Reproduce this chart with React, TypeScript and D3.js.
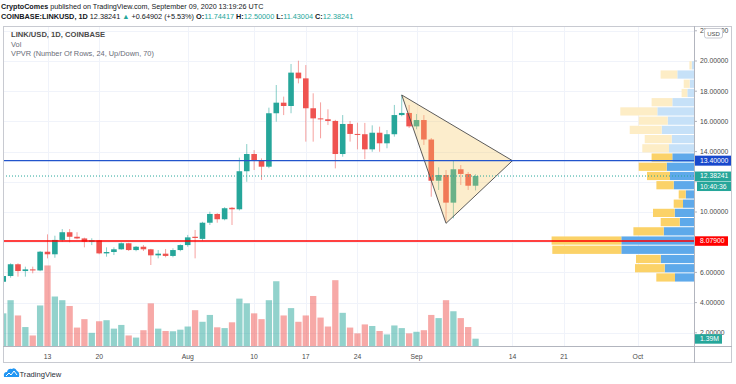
import React from "react";
import * as d3 from "d3";

// daily candles, Jul 7 .. Sep 9 2020 (LINK/USD, Coinbase)
const START = "2020-07-07";
const OPEN = [
  5.38, 5.76, 6.54, 6.09, 6.2, 6.13, 7.37, 7.2, 8.15, 8.66, 8.36, 8.25, 8.03, 8.12, 7.26, 7.35, 7.53, 7.93, 7.48, 7.7,
  7.53, 7.13, 7.24, 7.09, 7.48, 7.81, 8.36, 8.22, 9.29, 9.87, 9.52, 10.28, 10.18, 12.7, 13.84, 13.44, 13.0, 16.54, 17.24, 17.02,
  19.23, 18.85, 16.87, 16.2, 16.14, 16.03, 13.84, 15.83, 15.17, 15.15, 14.15, 15.25, 14.55, 15.15, 16.42, 16.56, 15.67, 16.09, 14.8, 12.07,
  12.45, 10.62, 12.83, 12.52, 11.74,
];
const HIGH = [
  5.85, 6.6, 6.6, 6.38, 6.38, 7.42, 8.52, 8.43, 8.87, 8.87, 8.66, 8.3, 8.26, 8.15, 7.66, 7.66, 7.98, 7.96, 7.75, 7.81,
  7.56, 7.48, 7.55, 7.6, 7.85, 8.48, 8.81, 9.35, 10.02, 9.92, 10.32, 10.33, 13.6, 14.5, 14.1, 13.55, 16.91, 18.41, 17.64, 19.8,
  20.02, 19.73, 17.86, 17.26, 16.8, 16.1, 16.42, 16.03, 15.91, 15.9, 15.74, 15.65, 15.43, 17.09, 17.75, 17.09, 16.49, 16.42, 14.9, 12.96,
  12.78, 13.4, 13.11, 12.65, 12.5,
];
const LOW = [
  5.36, 5.65, 5.72, 5.72, 5.94, 6.08, 6.93, 6.97, 8.03, 7.99, 8.2, 7.66, 7.81, 7.2, 7.04, 7.15, 7.5, 7.42, 7.4, 7.42,
  6.49, 6.93, 7.0, 7.0, 7.4, 7.7, 6.93, 8.1, 9.14, 9.29, 9.45, 9.14, 10.1, 12.0, 12.78, 12.12, 12.9, 15.98, 16.42, 16.54,
  18.52, 14.66, 14.66, 14.88, 15.76, 12.89, 13.66, 14.66, 14.15, 13.5, 13.99, 13.99, 14.22, 14.99, 16.34, 15.56, 15.48, 14.44, 11.01, 11.46,
  9.36, 9.58, 11.79, 11.46, 11.43,
];
const CLOSE = [
  5.76, 6.54, 6.09, 6.2, 6.13, 7.37, 7.2, 8.15, 8.66, 8.36, 8.25, 8.03, 8.12, 7.26, 7.35, 7.53, 7.93, 7.48, 7.7, 7.53,
  7.13, 7.24, 7.09, 7.48, 7.81, 8.32, 8.28, 9.29, 9.87, 9.52, 10.25, 10.18, 12.7, 13.84, 13.44, 13.0, 16.54, 17.24, 17.02, 19.23,
  18.85, 16.87, 16.2, 16.14, 16.03, 13.84, 15.83, 15.17, 15.15, 14.15, 15.25, 14.55, 15.15, 16.42, 16.56, 15.67, 16.09, 14.8, 12.07, 12.45,
  10.62, 12.83, 12.52, 11.74, 12.38241,
];
// volume, millions
const VOLUME = [
  6.2, 8.7, 5.8, 3.6, 2.0, 7.7, 15.3, 9.4, 8.7, 7.6, 3.5, 5.1, 2.5, 4.7, 4.9, 3.3, 4.0, 2.0, 1.6, 3.0,
  8.1, 3.3, 2.85, 2.8, 3.1, 3.7, 6.8, 4.6, 5.9, 3.55, 3.4, 4.5, 9.0, 8.1, 6.2, 5.1, 8.7, 12.3, 5.8, 7.2,
  4.6, 5.8, 9.5, 5.4, 3.7, 12.5, 6.3, 3.5, 2.4, 4.1, 3.8, 2.85, 2.2, 3.9, 3.4, 2.4, 2.7, 3.0, 5.9, 5.3,
  8.7, 6.6, 5.3, 3.6, 1.39,
];

// VPVR rows, lowest price first
const VP_UP = [19, 29.3, 33.3, 72.7, 72.7, 30.3, 14.3, 19.3, 11, 8.3, 20.3, 24, 27.3, 21.7, 25, 22.3, 32.3, 26.3, 36.7, 21.7, 6.7, 4.3, 16.7, 2.3];
const VP_DOWN = [18.7, 29.7, 24.7, 69, 69.7, 30.3, 19, 21.7, 9.3, 7, 17.3, 23, 28, 20.7, 26.7, 27, 32, 29, 37, 20.7, 5.7, 6, 16.7, 2.3];
const VP_VALUE_AREA = [0, 13];

const TIME_TICKS = [
  ["2020-07-13", "13"], ["2020-07-20", "20"], ["2020-08-01", "Aug"], ["2020-08-10", "10"], ["2020-08-17", "17"],
  ["2020-08-24", "24"], ["2020-09-01", "Sep"], ["2020-09-14", "14"], ["2020-09-21", "21"], ["2020-10-01", "Oct"],
];
const PRICE_TICKS = [2, 4, 6, 8, 10, 12, 14, 16, 18, 20, 22];

const LEVEL_BLUE = 13.4;
const LEVEL_RED = 8.079;
const LAST_PRICE = 12.38241;
const TRIANGLE: [string, number][] = [["2020-08-30", 17.75], ["2020-09-14", 13.4], ["2020-09-05", 9.25]];

const W = 736;
const H = 384;
const LEFT = 3;
const RIGHT = 694;
const AXIS_RIGHT = 732;
const TOP = 26;
const VOL_BASE = 346;
const BOTTOM = 363;

const UP = "#26a69a";
const DOWN = "#ef5350";
const FONT = "'Liberation Sans', Arial, sans-serif";

const parse = d3.utcParse("%Y-%m-%d");

export default function App() {
  const start = parse(START) as Date;
  const dates = d3.utcDay.range(start, d3.utcDay.offset(start, OPEN.length));

  const x = d3
    .scaleUtc()
    .domain([parse("2020-07-13") as Date, parse("2020-09-14") as Date])
    .range([47.5, 47.5 + 63 * 7.38]);
  const y = d3.scaleLinear().domain([10, 20]).range([212, 61]);
  const vy = d3.scaleLinear().domain([0, 20]).range([VOL_BASE, VOL_BASE - 105.3]);

  const totals = VP_UP.map((u, i) => u + VP_DOWN[i]);
  const vx = d3.scaleLinear().domain([0, d3.max(totals) as number]).range([0, 142.4]);
  const lo = d3.min(LOW) as number;
  const hi = d3.max(HIGH) as number;
  const step = (hi - lo) / VP_UP.length;

  const bodyW = 5.6;
  const volW = 6.3;

  const lastVol = VOLUME[VOLUME.length - 1];
  // axis labels hide tick labels they sit on
  const labelYs = [y(LEVEL_BLUE), y(LAST_PRICE), y(LAST_PRICE) + 10, y(LEVEL_RED), vy(lastVol)];
  const shownTicks = PRICE_TICKS.filter((p) => labelYs.every((ly) => Math.abs(ly - y(p)) > 5.5));

  const tri = TRIANGLE.map(([d, p]) => `${x(parse(d) as Date)},${y(p)}`).join(" ");

  return (
    <div style={{ position: "absolute", left: 0, top: 0 }}>
      <svg width={W} height={H} style={{ display: "block", background: "#fff" }} fontFamily={FONT}>
        <defs>
          <clipPath id="plot">
            <rect x={LEFT} y={TOP} width={RIGHT - LEFT} height={VOL_BASE - TOP} />
          </clipPath>
        </defs>

        {/* header */}
        <text x={1} y={8.5} fontSize={7.2} fill="#131722">
          <tspan fontWeight="bold">CryptoComes</tspan>
          <tspan> published on TradingView.com, September 09, 2020 13:19:26 UTC</tspan>
        </text>
        <text x={1} y={18.5} fontSize={7.3} fill="#131722">
          <tspan fontWeight="bold">COINBASE:LINKUSD, 1D</tspan>
          <tspan> 12.38241 </tspan>
          <tspan fill={UP}>▲</tspan>
          <tspan> +0.64902 (+5.53%) </tspan>
          <tspan fontWeight="bold">O:</tspan>
          <tspan fill={UP}>11.74417 </tspan>
          <tspan fontWeight="bold">H:</tspan>
          <tspan fill={UP}>12.50000 </tspan>
          <tspan fontWeight="bold">L:</tspan>
          <tspan fill={UP}>11.43004 </tspan>
          <tspan fontWeight="bold">C:</tspan>
          <tspan fill={UP}>12.38241</tspan>
        </text>

        {/* grid */}
        <g stroke="#f0f3fa" strokeWidth={1}>
          {PRICE_TICKS.map((p) => (
            <line key={p} x1={LEFT} x2={RIGHT} y1={Math.round(y(p)) + 0.5} y2={Math.round(y(p)) + 0.5} />
          ))}
          {TIME_TICKS.map(([d]) => {
            const xx = Math.round(x(parse(d) as Date)) + 0.5;
            return <line key={d} x1={xx} x2={xx} y1={TOP} y2={VOL_BASE} />;
          })}
        </g>

        <g clipPath="url(#plot)">
          {/* volume */}
          {dates.map((d, i) => (
            <rect
              key={"v" + i}
              x={x(d) - volW / 2}
              y={vy(VOLUME[i])}
              width={volW}
              height={VOL_BASE - vy(VOLUME[i])}
              fill={CLOSE[i] >= OPEN[i] ? UP : DOWN}
              fillOpacity={0.5}
            />
          ))}

          {/* candles */}
          {dates.map((d, i) => {
            const c = CLOSE[i] >= OPEN[i] ? UP : DOWN;
            const top = y(Math.max(OPEN[i], CLOSE[i]));
            const bot = y(Math.min(OPEN[i], CLOSE[i]));
            return (
              <g key={"c" + i}>
                <line x1={x(d)} x2={x(d)} y1={y(HIGH[i])} y2={y(LOW[i])} stroke={c} strokeOpacity={0.55} />
                <rect x={x(d) - bodyW / 2} y={top} width={bodyW} height={Math.max(1, bot - top)} fill={c} />
              </g>
            );
          })}

          {/* volume profile */}
          {VP_UP.map((u, i) => {
            const inVA = i >= VP_VALUE_AREA[0] && i <= VP_VALUE_AREA[1];
            const yt = y(lo + (i + 1) * step) + 0.5;
            const h = y(lo + i * step) - y(lo + (i + 1) * step) - 1;
            return (
              <g key={"vp" + i}>
                <rect x={RIGHT - vx(u)} y={yt} width={vx(u)} height={h} fill={inVA ? "#5ea9ea" : "#c6e1f8"} />
                <rect
                  x={RIGHT - vx(u + VP_DOWN[i])}
                  y={yt}
                  width={vx(VP_DOWN[i])}
                  height={h}
                  fill={inVA ? "#fbd268" : "#fdedc6"}
                />
              </g>
            );
          })}

          {/* triangle */}
          <polygon points={tri} fill="rgb(245,200,100)" fillOpacity={0.33} stroke="#4a4a4a" strokeWidth={0.9} />

          {/* levels */}
          <line x1={LEFT} x2={RIGHT} y1={y(LAST_PRICE)} y2={y(LAST_PRICE)} stroke={UP} strokeDasharray="1,2" />
          <line x1={LEFT} x2={RIGHT} y1={y(LEVEL_BLUE)} y2={y(LEVEL_BLUE)} stroke="#2255cc" strokeWidth={1.4} />
          <line x1={LEFT} x2={RIGHT} y1={y(LEVEL_RED)} y2={y(LEVEL_RED)} stroke="#ff0000" strokeWidth={1.4} />
        </g>

        {/* legend */}
        <text x={11} y={37} fontSize={7.6} fill="#4a4a4a" fontWeight="bold">LINK/USD, 1D, COINBASE</text>
        <text x={11} y={46.5} fontSize={7.4} fill="#6a6d78">Vol</text>
        <text x={11} y={56} fontSize={7.4} fill="#6a6d78">VPVR (Number Of Rows, 24, Up/Down, 70)</text>

        {/* price axis */}
        <g fontSize={6.8} fill="#4a4a4a">
          {PRICE_TICKS.map((p) => (
            <line key={p} x1={RIGHT} x2={RIGHT + 3} y1={y(p)} y2={y(p)} stroke="#b2b5be" />
          ))}
          {shownTicks.map((p) => (
            <text key={p} x={RIGHT + 6} y={y(p) + 2.4}>{p.toFixed(5)}</text>
          ))}
        </g>
        <rect x={704.5} y={28.5} width={18} height={9.5} rx={2} fill="#fff" stroke="#c8cad1" />
        <text x={713.5} y={35.5} fontSize={6} textAnchor="middle" fill="#4a4a4a">USD</text>

        {/* price labels */}
        <g fontSize={6.8} fill="#fff">
          <rect x={RIGHT} y={y(LEVEL_BLUE) - 5} width={AXIS_RIGHT - RIGHT} height={10} fill="#1848cc" />
          <text x={RIGHT + 6} y={y(LEVEL_BLUE) + 2.4}>{LEVEL_BLUE.toFixed(5)}</text>
          <rect x={RIGHT} y={y(LAST_PRICE) - 4.5} width={AXIS_RIGHT - RIGHT} height={9.5} fill={UP} />
          <text x={RIGHT + 6} y={y(LAST_PRICE) + 2.4}>{LAST_PRICE.toFixed(5)}</text>
          <rect x={RIGHT + 3} y={y(LAST_PRICE) + 5.5} width={AXIS_RIGHT - RIGHT - 3} height={9.5} fill={UP} />
          <text x={RIGHT + 6} y={y(LAST_PRICE) + 12.6}>10:40:36</text>
          <rect x={RIGHT} y={y(LEVEL_RED) - 4.7} width={34} height={9.5} fill="#ff0000" />
          <text x={RIGHT + 6} y={y(LEVEL_RED) + 2.4}>{LEVEL_RED.toFixed(5)}</text>
          <rect x={RIGHT} y={vy(lastVol) - 4.5} width={28} height={9.5} fill={UP} />
          <text x={RIGHT + 6} y={vy(lastVol) + 2.4}>{lastVol.toFixed(2)}M</text>
        </g>

        {/* time axis */}
        <g fontSize={6.8} fill="#4a4a4a" textAnchor="middle">
          {TIME_TICKS.map(([d, l]) => (
            <text key={d} x={x(parse(d) as Date)} y={358.5}>{l}</text>
          ))}
        </g>

        {/* frame */}
        <g stroke="#b2b5be" fill="none">
          <rect x={LEFT + 0.5} y={TOP + 0.5} width={AXIS_RIGHT - LEFT - 1} height={BOTTOM - TOP - 1} stroke="#c8cad1" />
          <line x1={RIGHT + 0.5} x2={RIGHT + 0.5} y1={TOP} y2={BOTTOM} />
          <line x1={LEFT} x2={AXIS_RIGHT} y1={VOL_BASE + 0.5} y2={VOL_BASE + 0.5} />
        </g>

        {/* logo */}
        <g transform="translate(3,367)">
          <path d="M1,10 Q0,5 4,5 Q5,1 9,2 Q12,0 14,4 Q17,5 16,10 Z" fill="#2196f3" />
          <path d="M3,9 L6,6 L8,8 L11,4 L14,8" stroke="#fff" strokeWidth={1} fill="none" />
        </g>
        <text x={19.5} y={376.5} fontSize={7.6} fill="#2a2e39">TradingView</text>
      </svg>
    </div>
  );
}
